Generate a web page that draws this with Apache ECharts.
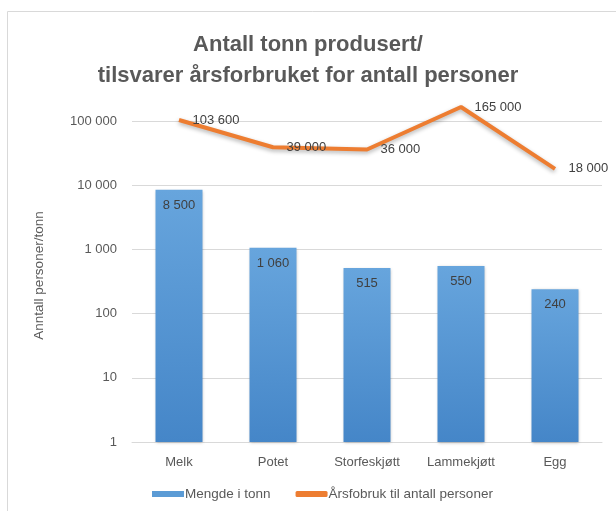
<!DOCTYPE html>
<html><head><meta charset="utf-8">
<script src="https://cdn.jsdelivr.net/npm/echarts@6/dist/echarts.min.js"></script>
<style>html,body{margin:0;padding:0;background:#fff}#c{width:616px;height:511px}</style>
</head><body><div id="c"></div>
<script>
const categories = ['Melk', 'Potet', 'Storfeskjøtt', 'Lammekjøtt', 'Egg'];
const tonnValues = [8500, 1060, 515, 550, 240];
const personValues = [103600, 39000, 36000, 165000, 18000];
const barName = 'Mengde i tonn';
const lineName = 'Årsfobruk til antall personer';
const titleLines = ['Antall tonn produsert/', 'tilsvarer årsforbruket for antall personer'];
const yName = 'Anntall personer/tonn';

const fmt = v => String(Math.round(v)).replace(/\B(?=(\d{3})+(?!\d))/g, ' ');
const FONT = '"Liberation Sans", Arial, sans-serif';
const chart = echarts.init(document.getElementById('c'));
chart.setOption({
  animation: false,
  textStyle: { fontFamily: FONT },
  graphic: [{ type: 'rect', shape: { x: 7.5, y: 11.5, width: 640, height: 540 }, style: { fill: 'none', stroke: '#d9d9d9', lineWidth: 1 }, silent: true }],
  title: {
    text: titleLines.join('\n'), left: 'center', top: 24,
    textStyle: { fontFamily: FONT, fontSize: 22, fontWeight: 'bold', color: '#595959', lineHeight: 31 }
  },
  legend: {
    bottom: 5, left: 147, itemGap: 25, itemWidth: 32, itemHeight: 6,
    textStyle: { fontFamily: FONT, fontSize: 13.5, color: '#595959', padding: [0, 0, 0, -4] },
    data: [{ name: barName, icon: 'rect', itemStyle: { color: '#5b9bd5' } }, { name: lineName, icon: 'roundRect', itemStyle: { color: '#ed7d31' } }]
  },
  grid: { left: 132, right: 14, top: 121, bottom: 69 },
  xAxis: {
    type: 'category', data: categories,
    axisLine: { show: true, lineStyle: { color: '#d9d9d9' } }, axisTick: { show: false },
    axisLabel: { color: '#595959', fontSize: 13, margin: 14 }
  },
  yAxis: {
    type: 'log', logBase: 10, min: 1, max: 100000,
    name: yName, nameLocation: 'middle', nameGap: 86, nameRotate: 90,
    nameTextStyle: { color: '#595959', fontSize: 13.5, padding: [0, 0, 0, 12] },
    axisLine: { show: false }, axisTick: { show: false },
    splitLine: { lineStyle: { color: '#d9d9d9' } },
    axisLabel: { color: '#595959', fontSize: 13, margin: 15, formatter: v => fmt(v) }
  },
  series: [{
    name: barName, type: 'bar', data: tonnValues, barWidth: '50%',
    itemStyle: {
      color: new echarts.graphic.LinearGradient(0, 0, 0, 1, [{ offset: 0, color: '#67a5dd' }, { offset: 1, color: '#4586c8' }]),
      shadowBlur: 3, shadowColor: 'rgba(0,0,0,0.25)', shadowOffsetY: 1
    },
    label: { show: true, position: 'insideTop', distance: 9, color: '#404040', fontSize: 13, formatter: p => fmt(p.value) }
  }, {
    name: lineName, type: 'line', data: personValues, clip: false,
    symbol: 'circle', symbolSize: 1, showSymbol: true,
    lineStyle: { color: '#ed7d31', width: 4, shadowBlur: 4, shadowColor: 'rgba(0,0,0,0.3)', shadowOffsetY: 2 },
    itemStyle: { color: 'rgba(237,125,49,0)' },
    label: { show: true, position: 'right', distance: 13, color: '#404040', fontSize: 13, formatter: p => fmt(p.value) }
  }]
});
</script></body></html>
